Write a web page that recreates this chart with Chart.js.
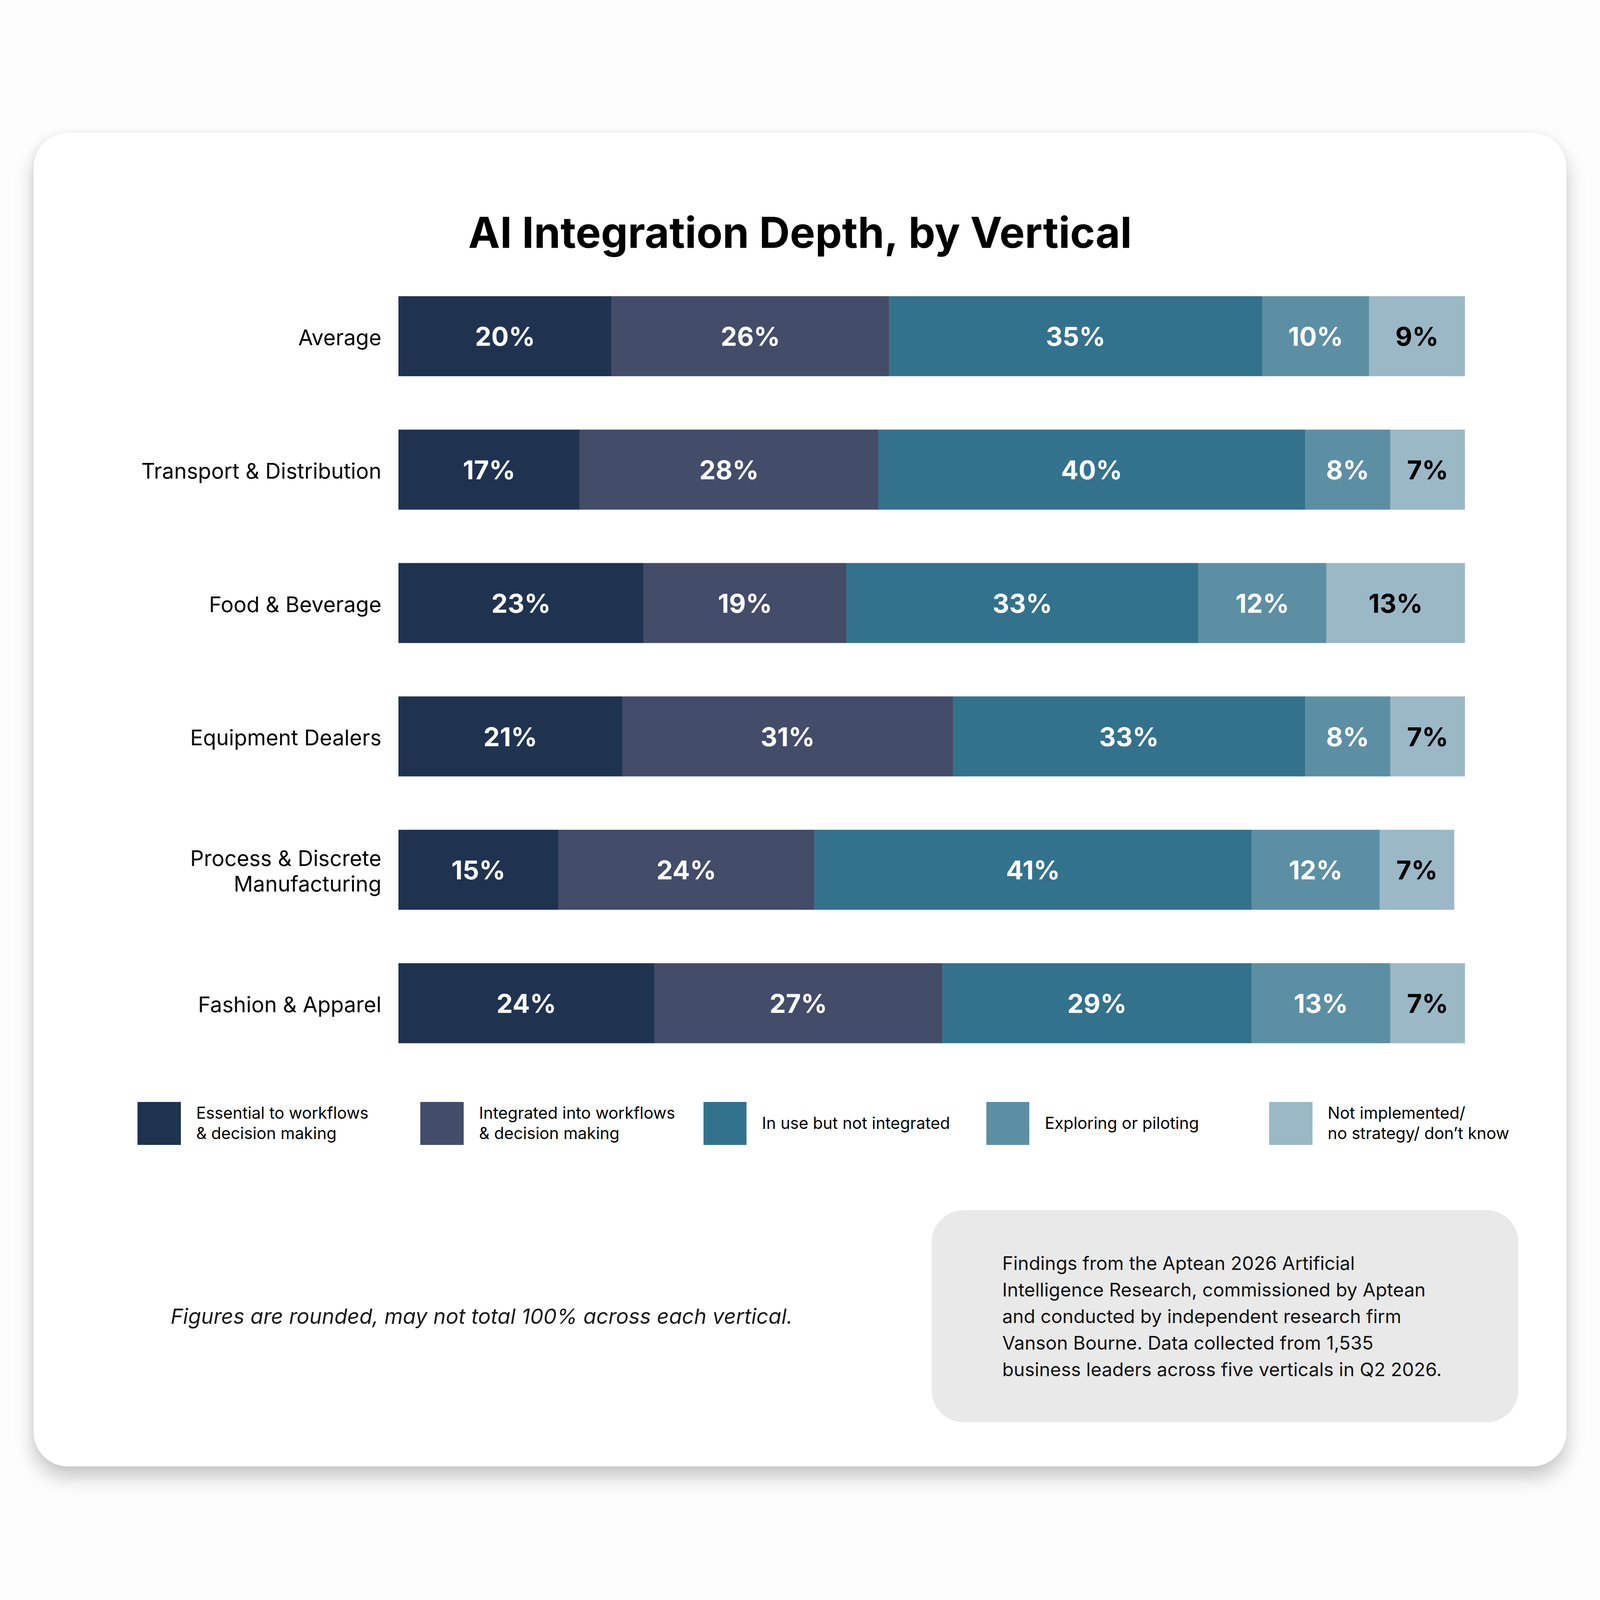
<!DOCTYPE html>
<html>
<head>
<meta charset="utf-8">
<script src="https://cdn.jsdelivr.net/npm/chart.js@4.4.1/dist/chart.umd.min.js"></script>
<style>
  html, body { margin:0; padding:0; }
  html { background:#fdfdfd; overflow:hidden; }
  body { width:5000px; height:5000px; background:#fdfdfd; position:relative; font-family:Inter, "Noto Sans", sans-serif; overflow:hidden; }
  #card { position:absolute; left:105px; top:415px; width:4790px; height:4168px; background:#ffffff; border-radius:107px; box-shadow: 0 34px 60px rgba(0,0,0,0.22), -4px 0 20px rgba(0,0,0,0.04); }
  #chartWrap { position:absolute; left:105px; top:645px; width:4790px; height:2791px; }
  #legend { position:absolute; left:0; top:3443px; width:5000px; height:135px; }
  .lg-item { position:absolute; top:0; height:135px; }
  .lg-box { position:absolute; left:0; top:0; width:135px; height:135px; }
  .lg-text { position:absolute; left:183px; top:0; height:135px; display:flex; align-items:center; font-size:51px; line-height:63px; color:#000; white-space:nowrap; }
  #note { position:absolute; left:533px; top:4072px; font-size:66px; line-height:84px; font-style:italic; color:#1a1a1a; white-space:nowrap; }
  #source { position:absolute; left:2911px; top:3782px; width:1834px; height:663px; background:#e9e9e9; border-radius:100px; box-sizing:border-box; padding-left:221px; display:flex; align-items:center; }
  #source div { font-size:58.5px; line-height:83px; color:#111; white-space:nowrap; }
</style>
</head>
<body>
<div id="card"></div>
<div id="chartWrap"><canvas id="c" width="4790" height="2791"></canvas></div>
<div id="legend"></div>
<div id="note">Figures are rounded, may not total 100% across each vertical.</div>
<div id="source"><div>Findings from the Aptean 2026 Artificial<br>Intelligence Research, commissioned by Aptean<br>and conducted by independent research firm<br>Vanson Bourne. Data collected from 1,535<br>business leaders across five verticals in Q2 2026.</div></div>
<script>
// fit the 5000px design into the actual viewport
(function(){
  const vw = window.innerWidth || document.documentElement.clientWidth || 5000;
  const k = vw / 5000;
  if (Math.abs(k - 1) > 0.001) document.body.style.zoom = k;
})();

const chartTitle = "AI Integration Depth, by Vertical";
const categories = ["Average", "Transport & Distribution", "Food & Beverage", "Equipment Dealers", ["Process & Discrete", "Manufacturing"], "Fashion & Apparel"];
const seriesNames = [["Essential to workflows", "& decision making"], ["Integrated into workflows", "& decision making"], ["In use but not integrated"], ["Exploring or piloting"], ["Not implemented/", "no strategy/ don\u2019t know"]];
const essential  = [20, 17, 23, 21, 15, 24];
const integrated = [26, 28, 19, 31, 24, 27];
const inUse      = [35, 40, 33, 33, 41, 29];
const exploring  = [10, 8, 12, 8, 12, 13];
const notImpl    = [9, 7, 13, 7, 7, 7];
const seriesColors = ["#1f3350", "#434c68", "#33728c", "#5c8fa3", "#9bb8c7"];
const labelColors  = ["#ffffff", "#ffffff", "#ffffff", "#ffffff", "#000000"];

const seriesValues = [essential, integrated, inUse, exploring, notImpl];

const legendEl = document.getElementById('legend');
const legendX = [430, 1314, 2198, 3082, 3966];
seriesNames.forEach((name, i) => {
  const item = document.createElement('div');
  item.className = 'lg-item';
  item.style.left = legendX[i] + 'px';
  const box = document.createElement('div');
  box.className = 'lg-box';
  box.style.background = seriesColors[i];
  const txt = document.createElement('div');
  txt.className = 'lg-text';
  txt.innerHTML = name.join('<br>');
  item.appendChild(box); item.appendChild(txt);
  legendEl.appendChild(item);
});

const valueLabels = {
  id: 'valueLabels',
  afterDatasetsDraw(chart) {
    const ctx = chart.ctx;
    ctx.save();
    ctx.font = 'bold 81px Inter, "Noto Sans", sans-serif';
    ctx.textAlign = 'center';
    ctx.textBaseline = 'middle';
    chart.data.datasets.forEach((ds, di) => {
      const meta = chart.getDatasetMeta(di);
      meta.data.forEach((el, i) => {
        const v = ds.data[i];
        if (v == null) return;
        const cx = (el.x + el.base) / 2;
        ctx.fillStyle = labelColors[di];
        ctx.fillText(v + '%', cx, el.y + 6);
      });
    });
    ctx.restore();
  }
};

new Chart(document.getElementById('c'), {
  type: 'bar',
  data: {
    labels: categories,
    datasets: seriesValues.map((vals, i) => ({
      label: seriesNames[i].join(' '),
      data: vals,
      backgroundColor: seriesColors[i],
      borderWidth: 0,
      barPercentage: 1,
      categoryPercentage: 0.6
    }))
  },
  options: {
    indexAxis: 'y',
    responsive: false,
    devicePixelRatio: 1,
    animation: false,
    layout: { padding: { left: 317, right: 317, top: 0, bottom: 0 } },
    plugins: {
      legend: { display: false },
      tooltip: { enabled: false },
      title: {
        display: true,
        text: chartTitle,
        color: '#000',
        font: { family: 'Inter, "Noto Sans", sans-serif', size: 133, weight: 'bold', lineHeight: 1.2 },
        padding: { top: 10, bottom: 28 }
      }
    },
    scales: {
      x: { stacked: true, min: 0, max: 100, display: false },
      y: {
        stacked: true,
        grid: { display: false, drawTicks: false },
        border: { display: false },
        ticks: {
          color: '#000',
          padding: 53,
          labelOffset: 8,
          font: { family: 'Inter, "Noto Sans", sans-serif', size: 67, lineHeight: 1.19 }
        },
        afterFit(scale) { scale.width = 823; }
      }
    }
  },
  plugins: [valueLabels]
});
</script>
</body>
</html>
